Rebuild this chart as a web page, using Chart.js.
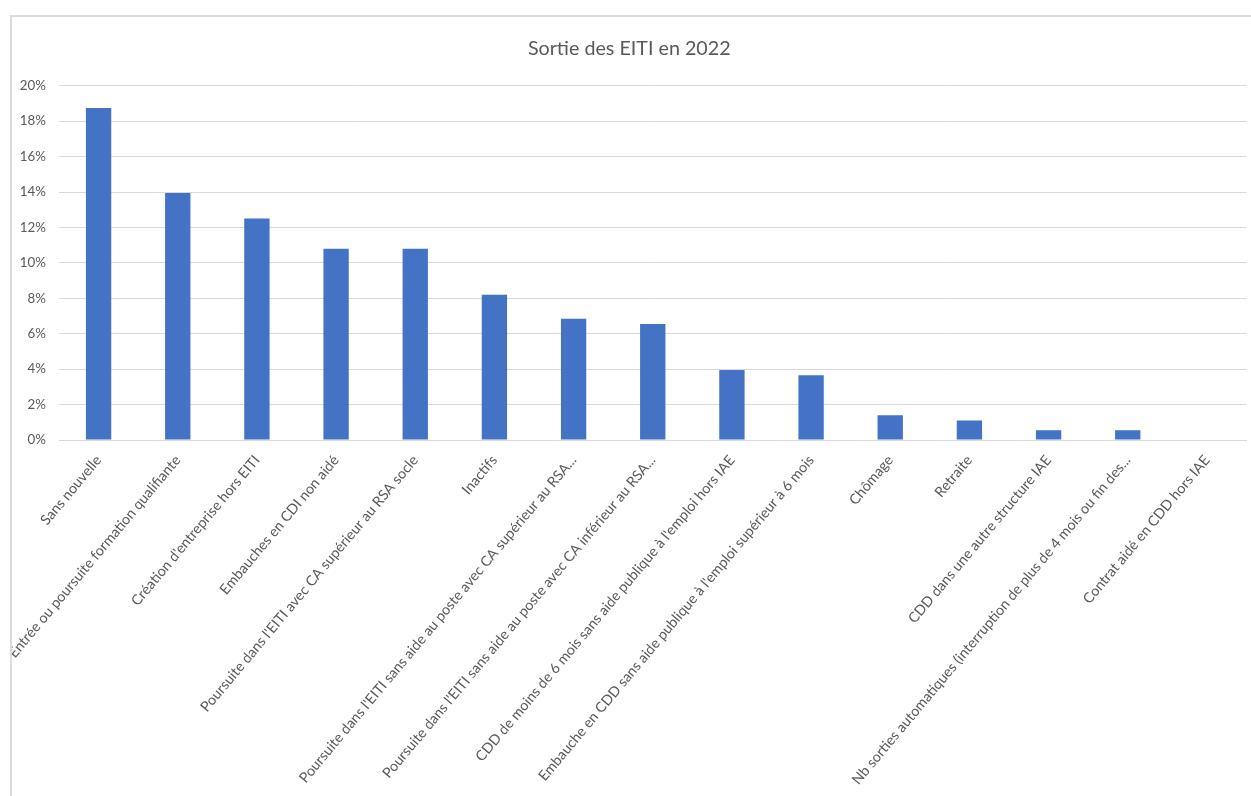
<!DOCTYPE html>
<html>
<head>
<meta charset="utf-8">
<script src="https://cdn.jsdelivr.net/npm/chart.js@4"></script>
<style>
  html, body { margin: 0; padding: 0; background: #ffffff; overflow: hidden; }
  #frame { position: absolute; left: 10px; top: 15px; width: 1239px; height: 779px;
           border-left: 2px solid #dcdcdc; border-top: 2px solid #dcdcdc; overflow: hidden; }
  #c { display: block; }
</style>
</head>
<body>
<div id="frame"><canvas id="c" width="1239" height="779"></canvas></div>
<script>
const title = "Sortie des EITI en 2022";
const categories = [
  "Sans nouvelle",
  "Entrée ou poursuite formation qualifiante",
  "Création d'entreprise hors EITI",
  "Embauches en CDI non aidé",
  "Poursuite dans l'EITI avec CA supérieur au RSA socle",
  "Inactifs",
  "Poursuite dans l'EITI sans aide au poste avec CA supérieur au RSA...",
  "Poursuite dans l'EITI sans aide au poste avec CA inférieur au RSA...",
  "CDD de moins de 6 mois sans aide publique à l'emploi hors IAE",
  "Embauche en CDD sans aide publique à l'emploi supérieur à 6 mois",
  "Chômage",
  "Retraite",
  "CDD dans une autre structure IAE",
  "Nb sorties automatiques (interruption de plus de 4 mois ou fin des...",
  "Contrat aidé en CDD hors IAE"
];
const values = [18.75, 13.95, 12.5, 10.8, 10.8, 8.2, 6.85, 6.55, 3.95, 3.65, 1.4, 1.1, 0.55, 0.55, 0];
const yTicks = [0, 2, 4, 6, 8, 10, 12, 14, 16, 18, 20];

const FONT = "Lato, 'Open Sans', sans-serif";
const TEXT = "#595959";
const GRID = "#d9d9d9";

new Chart(document.getElementById("c"), {
  type: "bar",
  data: {
    labels: categories,
    datasets: [{
      data: values,
      backgroundColor: "#4472C4",
      borderWidth: 0,
      barPercentage: 0.32,
      categoryPercentage: 1.0
    }]
  },
  options: {
    responsive: false,
    animation: false,
    layout: { padding: { left: 0, right: 4.5, top: 0, bottom: 0 } },
    plugins: {
      legend: { display: false },
      tooltip: { enabled: false },
      title: {
        display: true,
        text: title,
        color: TEXT,
        font: { family: FONT, size: 19.7, weight: "normal", lineHeight: 1.2 },
        padding: { top: 19.4, bottom: 25.7 }
      }
    },
    scales: {
      x: {
        grid: { display: false, drawTicks: false },
        border: { display: true, color: GRID, width: 1 },
        ticks: {
          color: TEXT,
          font: { family: FONT, size: 14.3 },
          autoSkip: false,
          minRotation: 50,
          maxRotation: 50,
          padding: 12
        },
        afterFit: (s) => { s.height = 356; }
      },
      y: {
        min: 0,
        max: 20,
        grid: { color: GRID, lineWidth: 1, drawTicks: false },
        border: { display: false },
        afterBuildTicks: (s) => { s.ticks = yTicks.map(v => ({ value: v })); },
        ticks: {
          color: TEXT,
          font: { family: FONT, size: 13.33 },
          padding: 13,
          callback: (v) => v + "%"
        },
        afterFit: (s) => { s.width = 47; }
      }
    }
  }
});
</script>
</body>
</html>
